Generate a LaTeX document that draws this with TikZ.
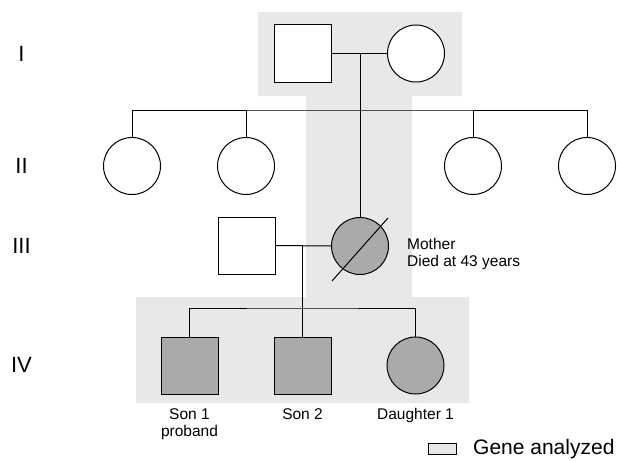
\documentclass[tikz,border=0pt]{standalone}
\usepackage{fontspec}
\setmainfont{Liberation Sans}
\begin{document}
\begin{tikzpicture}[x=1pt,y=-1pt,
  male/.style={draw=black,line width=1pt,minimum size=57pt,inner sep=0pt,rectangle},
  female/.style={draw=black,line width=1pt,minimum size=57pt,inner sep=0pt,circle},
  aff/.style={fill=affgray},
  unaff/.style={fill=white},
  conn/.style={line width=1pt},
  gen/.style={font=\fontsize{22}{24}\selectfont,inner sep=0pt},
  lab/.style={font=\fontsize{15.5}{17.5}\selectfont,align=center}]
\definecolor{affgray}{HTML}{AAAAAA}
\definecolor{bandgray}{HTML}{E8E8E8}
\useasboundingbox (0,0) rectangle (617,460);
% gene analyzed band
\fill[bandgray] (258,12) -- (462,12) -- (462,96) -- (412,96) -- (412,297) -- (469,297) -- (469,403) -- (136,403) -- (136,297) -- (306,297) -- (306,96) -- (258,96) -- cycle;
% generation labels
\node[gen] (gI) at (21.5,54) {I};
\node[gen] (gII) at (21.5,166) {II};
\node[gen] (gIII) at (21.5,246) {III};
\node[gen] (gIV) at (21.5,364.5) {IV};
% Generation I
\node[male,unaff] (f1) at (302.5,53.5) {};
\node[female,unaff] (m1) at (416,53.5) {};
% Generation II
\node[female,unaff] (s1) at (132,166) {};
\node[female,unaff] (s2) at (246,166) {};
\node[female,unaff] (s3) at (473,166) {};
\node[female,unaff] (s4) at (587,166) {};
% Generation III
\node[male,unaff] (f3) at (246.5,245.5) {};
\node[female,aff] (mo) at (360,246) {};
\draw[conn] ([shift={(-28,35)}]mo.center) -- ([shift={(28,-28)}]mo.center);
\node[lab,anchor=north west,align=left,inner sep=0pt] (motxt) at (407,238) {Mother\\Died at 43 years};
% Generation IV
\node[male,aff] (c1) at (189.5,365.5) {};
\node[male,aff] (c2) at (302.5,365.5) {};
\node[female,aff] (c3) at (415.5,365.5) {};
\node[lab,anchor=north,inner sep=0pt] (l1) at (189.5,408) {Son 1\\proband};
\node[lab,anchor=north,inner sep=0pt] (l2) at (302.5,408) {Son 2};
\node[lab,anchor=north,inner sep=0pt] (l3) at (415.5,408) {Daughter 1};
% connectors gen I
\draw[conn] (f1.east) -- (m1.west);
\coordinate (mid1) at (360,53.5);
\coordinate (sib2) at (360,110);
\draw[conn] (mid1) -- (mo.north);
\draw[conn] (s1.north) |- (sib2) -| (s4.north);
\draw[conn] (s2.north) -- (s2.north |- sib2);
\draw[conn] (s3.north) -- (s3.north |- sib2);
% connectors gen III
\draw[conn] (f3.east) -- (mo.west);
\coordinate (mid3) at (302.5,246);
\coordinate (sib4) at (302.5,308);
\draw[conn] (mid3) -- (c2.north);
\draw[conn] (c1.north) |- (sib4) -| (c3.north);
% legend
\node[draw=black,line width=0.8pt,fill=bandgray,minimum width=28pt,minimum height=11pt,inner sep=0pt] (leg) at (442,448.5) {};
\node[anchor=west,font=\fontsize{21}{23}\selectfont,inner sep=0pt] (legtxt) at (473,449) {Gene analyzed};
\end{tikzpicture}
\end{document}
